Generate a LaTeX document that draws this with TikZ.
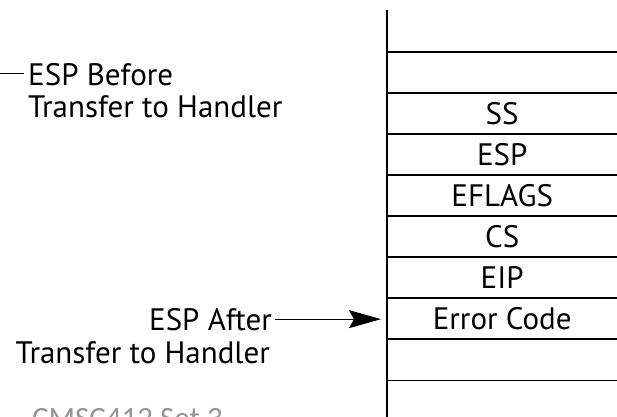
\documentclass[tikz,border=0pt]{standalone}
\usepackage{fontspec}
\setmainfont{PT Sans}
\newfontfamily\footfont{Carlito}
\usetikzlibrary{arrows.meta,positioning}
\definecolor{footgray}{RGB}{150,150,150}
\tikzset{
  stack_cell/.style={
    minimum width=230pt, minimum height=41pt, inner sep=0pt,
    anchor=north west, font=\fontsize{31}{33}\selectfont
  },
  stack_rule/.style={line width=1.3pt},
  esp_lbl/.style={inner sep=0pt, font=\fontsize{31}{33}\selectfont},
  esp_arr/.style={-{Stealth[length=32pt,width=18pt,inset=5pt]}, line width=1pt},
  esp_lead/.style={line width=1pt},
}
\begin{document}
\begin{tikzpicture}[x=1pt,y=-1pt]
\useasboundingbox (0,0) rectangle (617,416);

% Stack slots, top to bottom
\foreach \lbl [count=\i] in {{}, SS, ESP, EFLAGS, CS, EIP, Error Code, {}}
  \node[stack_cell] (c\i) at (387,{52+41*(\i-1)}) {\lbl};

% Slot borders and stack edge
\foreach \i in {1,...,8}
  \draw[stack_rule] (c\i.north west) -- ++(240,0);
\draw[stack_rule] (c8.south west) -- ++(240,0);
\draw[stack_rule] (387,10) -- (387,420);

% ESP before transfer
\node[esp_lbl, anchor=base west] (before)  at (28,85)  {ESP Before};
\node[esp_lbl, anchor=base west] (beforeb) at (28,117) {Transfer to Handler};
\coordinate (lead) at (0,73);
\draw[esp_lead, shorten >=4pt] (lead) -- (lead -| before.west);

% ESP after transfer
\node[esp_lbl, anchor=base east] (after)  at (272,330) {ESP After};
\node[esp_lbl, anchor=base east] (afterb) at (270,363) {Transfer to Handler};
\draw[esp_arr, shorten <=3pt, shorten >=6pt] (after.east) -- (after.east -| c7.west);

% Slide footer (cut off)
\node[font=\footfont\fontsize{31}{33}\selectfont, text=footgray,
      anchor=base west, inner sep=0pt] (foot) at (32,428) {CMSC412 Set 3};

\end{tikzpicture}
\end{document}
